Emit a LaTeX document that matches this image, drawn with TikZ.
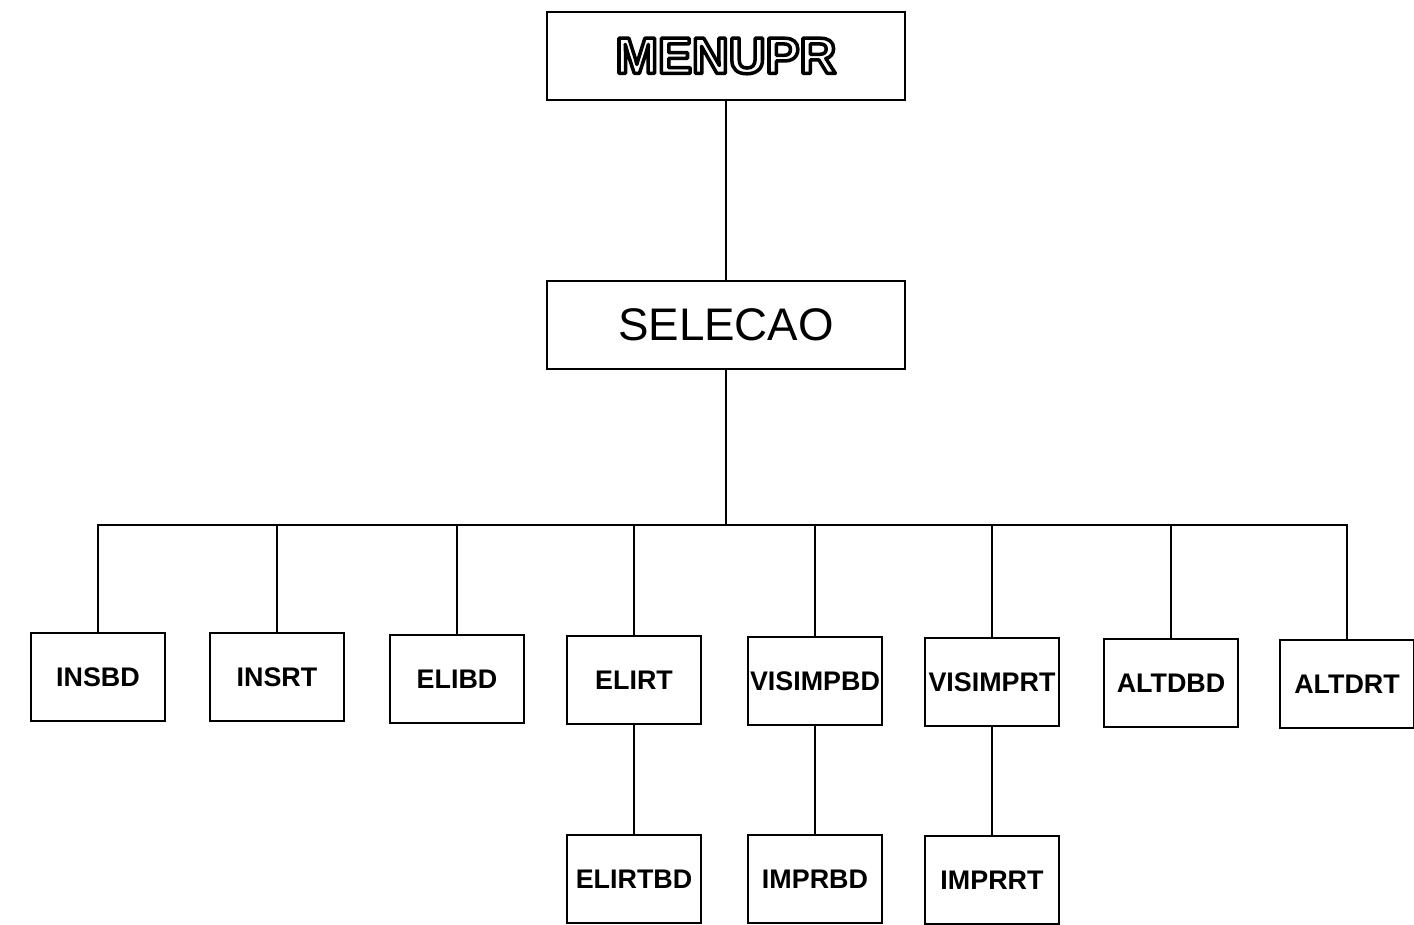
\documentclass[tikz,border=0pt]{standalone}
\usepackage{fontspec}
\setmainfont{Liberation Sans}
\usetikzlibrary{positioning}
% hollow letters for the title box
\newcommand\hollow[1]{\special{pdf:literal direct 1 Tr 2 w 1 j}#1\special{pdf:literal direct 0 Tr 0 j}}

\begin{document}
\begin{tikzpicture}[
  x=0.02cm, y=-0.02cm,
  box/.style={draw=black, line width=1.6pt, minimum width=2.68cm, minimum height=1.76cm, inner sep=0pt, font=\fontsize{15.3}{16}\selectfont\bfseries},
  top/.style={box, minimum width=7.16cm},
  wire/.style={draw=black, line width=1.6pt}
]
\useasboundingbox (0,0) rectangle (1414,924);

% Top of the menu tree
\node[top, font=\fontsize{29}{30}\selectfont\bfseries] (menupr) at (726,56) {\hollow{MENUPR}};
\node[top, font=\fontsize{26}{28}\selectfont] (selecao) at (726,325) {SELECAO};

% Options row
\foreach \n/\x/\y/\t in {insbd/98/677/INSBD, insrt/277/677/INSRT, elibd/457/679/ELIBD, elirt/634/680/ELIRT,
  visimpbd/815/681/VISIMPBD, visimprt/992/682/VISIMPRT, altdbd/1171/683/ALTDBD, altdrt/1347/684/ALTDRT}
  \node[box] (\n) at (\x,\y) {\t};

% Second level
\node[box] (elirtbd) at (634,879) {ELIRTBD};
\node[box] (imprbd)  at (815,879) {IMPRBD};
\node[box] (imprrt)  at (992,880) {IMPRRT};

% Links
\coordinate (bus) at (726,525);
\draw[wire] (menupr) -- (selecao);
\draw[wire] (selecao) -- (bus);
\foreach \n in {insbd,insrt,elibd,elirt,visimpbd,visimprt,altdbd,altdrt}
  \draw[wire] (bus) -| (\n.north);
\draw[wire] (elirt) -- (elirtbd);
\draw[wire] (visimpbd) -- (imprbd);
\draw[wire] (visimprt) -- (imprrt);
\end{tikzpicture}
\end{document}
